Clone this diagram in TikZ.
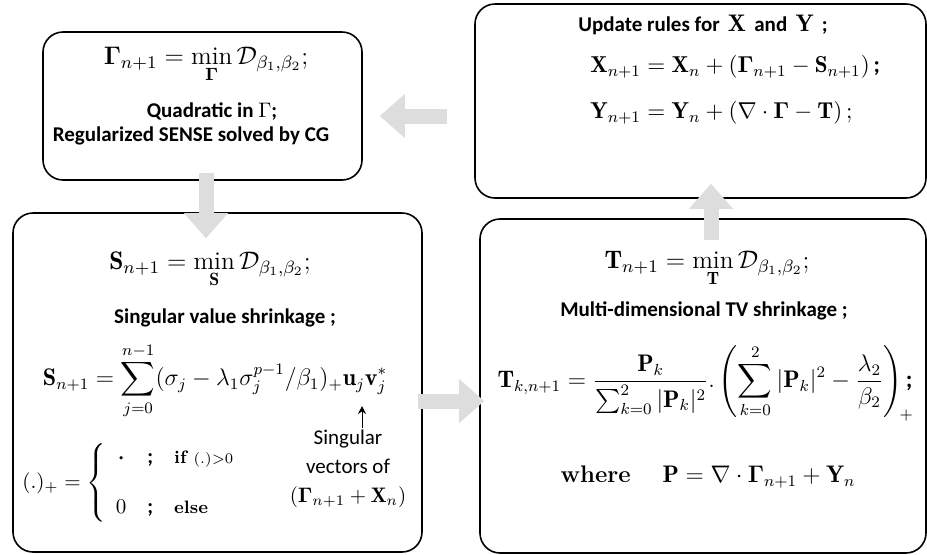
\documentclass[tikz,border=0pt]{standalone}
\usepackage{fix-cm}
\usepackage{amsmath}
\usepackage{fontspec}
\setsansfont{Carlito}
\usetikzlibrary{arrows.meta,calc}
\definecolor{arrowgray}{RGB}{221,221,221}
\newcommand{\cb}{\sffamily\bfseries}

\begin{document}
\begin{tikzpicture}[x=0.5pt, y=-0.5pt]

  % Styles for the boxes, texts and the big grey arrows
  \tikzstyle{box} = [draw, line width=0.8pt, rounded corners=10pt, inner sep=0pt]
  \tikzstyle{boldtxt} = [font=\fontsize{10.5}{13}\sffamily\bfseries, inner sep=0pt]
  \tikzstyle{eq} = [font=\fontsize{12}{14}\selectfont, inner sep=0pt]
  \tikzstyle{mineq} = [font=\fontsize{12.7}{15}\selectfont, inner sep=0pt]
  \tikzstyle{blockarrow} = [line width=7.5pt, draw=arrowgray,
    -{Triangle[width=22pt, length=12.5pt, line width=0pt]}]

  \useasboundingbox (0,0) rectangle (927,554);

  % The four boxes
  \node[box, minimum width=159.5pt, minimum height=74pt] (gammabox) at (202.5,106) {};
  \node[box, minimum width=225.5pt, minimum height=97pt] (updbox) at (700.5,101) {};
  \node[box, minimum width=204.5pt, minimum height=169.5pt] (sbox) at (217.5,382.5) {};
  \node[box, minimum width=223pt, minimum height=167pt] (tbox) at (703,386) {};

  % Gamma step
  \node[mineq] (gammaeq) at (206,65) {$\displaystyle \boldsymbol{\Gamma}_{n+1} = \min_{\boldsymbol{\Gamma}} \mathcal{D}_{\beta_1,\beta_2};$};
  \node[boldtxt] (quadtxt) at (212,112) {Quadratic in $\Gamma$;};
  \node[boldtxt] (sensetxt) at (191,136) {Regularized SENSE solved by CG};

  % Update of X and Y
  \node[boldtxt] (updtxt) at (703,25) {Update rules for \,{\fontsize{12}{14}\selectfont$\mathbf{X}$}\, and \,{\fontsize{12}{14}\selectfont$\mathbf{Y}$}\, ;};
  \node[eq, anchor=west, font=\fontsize{11.5}{14}\selectfont] (xupd) at (590,67) {$\mathbf{X}_{n+1} = \mathbf{X}_n + (\boldsymbol{\Gamma}_{n+1} - \mathbf{S}_{n+1})$\,{\cb;}};
  \node[eq, anchor=west, font=\fontsize{11.5}{14}\selectfont] (yupd) at (590,113) {$\mathbf{Y}_{n+1} = \mathbf{Y}_n + (\nabla\cdot\boldsymbol{\Gamma} - \mathbf{T})\,;$};

  % S step
  \node[mineq] (seq) at (210,270) {$\displaystyle \mathbf{S}_{n+1} = \min_{\mathbf{S}} \mathcal{D}_{\beta_1,\beta_2};$};
  \node[boldtxt] (svdtxt) at (225,318) {Singular value shrinkage ;};
  \node[eq] (sumeq) at (215,381) {$\displaystyle \mathbf{S}_{n+1} = \sum_{j=0}^{n-1}(\sigma_j - \lambda_1\sigma_j^{p-1}/\beta_1)_+\mathbf{u}_j\mathbf{v}_j^*$};
  \node[align=center, font=\fontsize{10.5}{14.5}\sffamily, inner sep=1pt] (singtxt) at (348,469) {Singular\\vectors of\\$(\boldsymbol{\Gamma}_{n+1}+\mathbf{X}_n)$};
  \node[anchor=west, font=\fontsize{10.5}{13}\selectfont, inner sep=1pt] (pluseq) at (20,483) {$(.)_+ = \left\{\begin{array}{c@{\quad}c@{\quad}l}
      \boldsymbol{\cdot} & \text{\cb;} & \text{\small\bfseries if}\ {\scriptstyle (.) > 0} \\[12pt]
      0 & \text{\cb;} & \text{\small\bfseries else}
    \end{array}\right.$};

  % T step
  \node[mineq] (teq) at (707,269) {$\displaystyle \mathbf{T}_{n+1} = \min_{\mathbf{T}} \mathcal{D}_{\beta_1,\beta_2};$};
  \node[boldtxt] (tvtxt) at (704,311) {Multi-dimensional TV shrinkage ;};
  \node[eq] (tkeq) at (705,383) {$\displaystyle \mathbf{T}_{k,n+1} = \frac{\mathbf{P}_k}{\sum_{k=0}^{2}|\mathbf{P}_k|^2}.\left(\sum_{k=0}^{2}|\mathbf{P}_k|^2 - \frac{\lambda_2}{\beta_2}\right)_{\!+}\mkern-9mu\text{\cb;}$};
  \node[eq] (whereeq) at (708,477) {$\textbf{where}\quad\ \mathbf{P} = \nabla\cdot\boldsymbol{\Gamma}_{n+1} + \mathbf{Y}_n$};

  % Small arrow to the singular vectors
  \coordinate (vjstar) at (362,406);
  \draw[-{Stealth[length=4pt, width=4pt]}, line width=0.5pt] (vjstar |- singtxt.north) -- (vjstar);

  % Big grey arrows between the steps
  \draw[blockarrow] ($(updbox.west)+(-27,15)$) -- ($(gammabox.east)+(17,10)$);
  \draw[blockarrow] ($(gammabox.south)+(3.5,-8)$) -- ($(sbox.north)+(-11.5,26)$);
  \draw[blockarrow] ($(sbox.east)+(-5,18.5)$) -- ($(tbox.west)+(5,15)$);
  \draw[blockarrow] ($(tbox.north)+(8,22)$) -- ($(updbox.south)+(10.5,-15)$);

\end{tikzpicture}
\end{document}
